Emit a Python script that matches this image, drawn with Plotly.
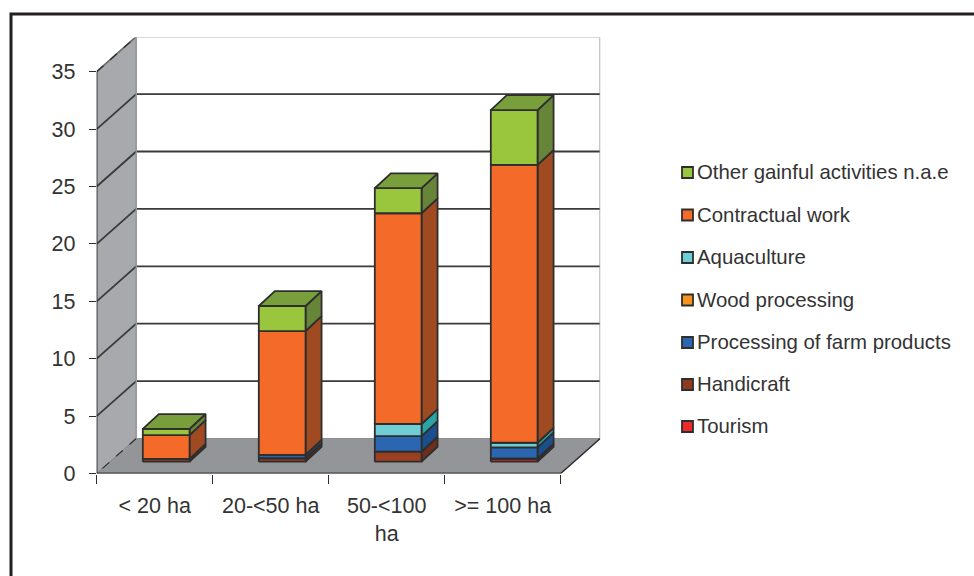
import plotly.graph_objects as go

categories = ["< 20 ha", "20-<50 ha", "50-<100<br>ha", ">= 100 ha"]
tourism = [0.0, 0.0, 0.0, 0.25]
handicraft = [0.25, 0.3, 0.87, 0.03]
processing = [0.0, 0.3, 1.36, 0.97]
wood = [0.0, 0.0, 0.0, 0.0]
aquaculture = [0.0, 0.0, 1.05, 0.4]
contractual = [2.07, 10.78, 18.36, 24.2]
other = [0.53, 2.18, 2.18, 4.78]
y_ticks = [0, 5, 10, 15, 20, 25, 30, 35]

series = [
    ("Tourism", tourism, "#d3242b", "#a01f25", "#ee2a2b"),
    ("Handicraft", handicraft, "#9a3f20", "#6e2f1a", "#8f3a1e"),
    ("Processing of farm products", processing, "#2b66b1", "#1b4e8d", "#2b66b1"),
    ("Wood processing", wood, "#f7941e", "#b96d16", "#f7941e"),
    ("Aquaculture", aquaculture, "#6fcdd6", "#2aa3a5", "#6fcdd6"),
    ("Contractual work", contractual, "#f46b29", "#a04a22", "#f46b29"),
    ("Other gainful activities n.a.e", other, "#9ac63d", "#668539", "#9ac63d"),
]
TOP_COLOR = "#789f3c"

# pseudo-3D geometry in axis units
WALL_DX, WALL_DY = 0.3405, 3.05
BAR_OX, BAR_OY = 0.099, 1.03
BAR_DX, BAR_DY = 0.138, 1.3
BAR_W = 0.403
X0, X1 = -0.5, 3.5
INK = "#2e2e2e"

W, H = 974, 576
PL, PR, PT, PB = 96.7, 600.2, 37.5, 473.5

fig = go.Figure()


def poly(xs, ys, fill, line=INK, width=1.8, dash="solid"):
    fig.add_trace(go.Scatter(
        x=xs + [xs[0]], y=ys + [ys[0]], mode="lines", fill="toself", fillcolor=fill,
        line=dict(color=line, width=width, dash=dash), cliponaxis=False,
        hoverinfo="skip", showlegend=False))


def path(xs, ys, color, width=1.5, dash="solid"):
    fig.add_trace(go.Scatter(
        x=xs, y=ys, mode="lines", line=dict(color=color, width=width, dash=dash),
        cliponaxis=False, hoverinfo="skip", showlegend=False))


# walls and floor
ymax = max(y_ticks)
poly([X0, X0, X0 + WALL_DX, X0 + WALL_DX], [0, ymax, ymax + WALL_DY, WALL_DY], "#a7a9ac", line="#8a8c8f", width=1)
poly([X0, X1, X1 + WALL_DX, X0 + WALL_DX], [0, 0, WALL_DY, WALL_DY], "#939598", line="#8a8c8f", width=1)
for v in y_ticks[1:]:
    c = "#6e6e6e" if v == ymax else "#3a3a3a"
    path([X0, X0 + WALL_DX, X1 + WALL_DX], [v, v + WALL_DY, v + WALL_DY], c, 1.8)
path([X0 + WALL_DX, X0], [WALL_DY, 0], INK, 1.2, "dash")
path([X0, X0 + WALL_DX], [ymax, ymax + WALL_DY], INK, 1.2, "dash")
path([X0 + WALL_DX, X0 + WALL_DX], [WALL_DY, ymax + WALL_DY], "#9a9a9a", 1.5)
path([X1 + WALL_DX, X1 + WALL_DX], [WALL_DY, ymax + WALL_DY], "#9a9a9a", 1.5)
path([X1, X1 + WALL_DX], [0, WALL_DY], INK, 1.5)
path([X0, X0], [0, ymax], INK, 1.5)
path([X0, X1], [0, 0], "#3c3c3c", 2.2)

# bars
for i in range(len(categories)):
    left = i - BAR_W / 2 + BAR_OX
    right = left + BAR_W
    base = BAR_OY
    for name, vals, front, side, _ in series:
        v = vals[i]
        if v <= 0:
            continue
        top = base + v
        poly([right, right + BAR_DX, right + BAR_DX, right],
             [base, base + BAR_DY, top + BAR_DY, top], side)
        poly([left, right, right, left], [base, base, top, top], front)
        base = top
    poly([left, right, right + BAR_DX, left + BAR_DX],
         [base, base, base + BAR_DY, base + BAR_DY], TOP_COLOR)

# legend, drawn on a page-wide overlay axis
legend_items = series[::-1]
legend_y = [172.5, 215, 257.5, 300, 342.5, 384.5, 426.5]
fig.add_trace(go.Scatter(
    x=[687.5] * len(legend_items), y=legend_y, mode="markers", xaxis="x2", yaxis="y2",
    marker=dict(symbol="square", size=11, color=[s[4] for s in legend_items],
                line=dict(color=INK, width=1.8)),
    hoverinfo="skip", showlegend=False))
fig.add_trace(go.Scatter(
    x=[697] * len(legend_items), y=[v + 1.5 for v in legend_y], mode="text", xaxis="x2", yaxis="y2",
    text=[s[0] for s in legend_items], textposition="middle right",
    textfont=dict(family="Liberation Sans", size=20.4, color="#333333"),
    hoverinfo="skip", showlegend=False))
# outer frame
fig.add_trace(go.Scatter(
    x=[11, 11, W], y=[H, 14, 14], mode="lines", xaxis="x2", yaxis="y2",
    line=dict(color="#231f20", width=3), hoverinfo="skip", showlegend=False))

FONT = dict(family="Liberation Sans", size=21.5, color="#333333")
fig.update_layout(
    width=W, height=H, margin=dict(l=0, r=0, t=0, b=0, pad=0, autoexpand=False),
    paper_bgcolor="white", plot_bgcolor="rgba(0,0,0,0)", showlegend=False,
    xaxis=dict(
        domain=[PL / W, PR / W], range=[X0, X0 + (PR - PL) / 116], anchor="y",
        tickmode="array", tickvals=list(range(len(categories))), ticktext=categories,
        ticks="", ticklabelstandoff=17, showgrid=False, zeroline=False, showline=False,
        tickfont=FONT,
        minor=dict(tickmode="array", tickvals=[X0 + k for k in range(5)], ticks="outside",
                   ticklen=9, tickwidth=1.3, tickcolor=INK, showgrid=False),
    ),
    yaxis=dict(
        domain=[1 - PB / H, 1 - PT / H], range=[0, (PB - PT) / 11.48], anchor="x",
        tickmode="array", tickvals=y_ticks, ticks="outside", ticklen=7, tickwidth=1.3,
        tickcolor=INK, ticklabelstandoff=9, showgrid=False, zeroline=False, showline=False,
        tickfont=dict(family="Liberation Sans", size=21.5, color="#333333"),
    ),
    xaxis2=dict(domain=[0, 1], range=[0, W], visible=False, anchor="y2"),
    yaxis2=dict(domain=[0, 1], range=[H, 0], visible=False, anchor="x2"),
)

fig.write_html("out.html", config={"displayModeBar": False},
               post_script="document.body.style.margin='0';")
